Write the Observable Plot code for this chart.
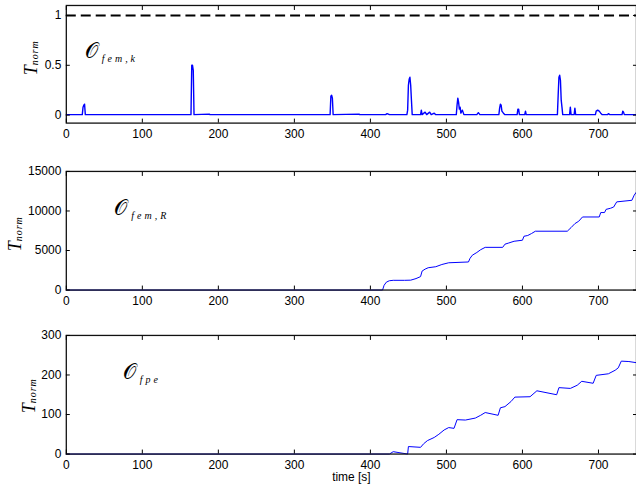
<!DOCTYPE html>
<html><head><meta charset="utf-8">
<script src="https://cdn.jsdelivr.net/npm/d3@7"></script>
<script src="https://cdn.jsdelivr.net/npm/@observablehq/plot@0.6"></script>
<style>
html,body{margin:0;padding:0;background:#fff;overflow:hidden;width:636px;height:494px}
#chart>div{line-height:0}
</style></head><body><div id="chart"></div>
<script>
// ---- data ----
const xTicks = [0, 100, 200, 300, 400, 500, 600, 700];
const xLabel = "time [s]";
const yLabelMain = "T";
const yLabelSub = "norm";

// panel 1: O_fem,k
const time1 = [0,21,22,23,24,25,164,165,166,167,168,188,189,347,348,349,350,351,385,386,420,422,425,448,449,450,451,452,453,454,455,466,467,468,472,474,478,480,484,486,513,514,515,516,517,518,519,521,523,540,542,544,569,570,571,572,573,575,577,593,594,595,596,603,604,605,646,647,648,649,650,651,652,653,662,663,664,668,669,670,696,697,699,701,703,705,712,713,715,731,732,733,734,750];
const tnorm1 = [0.005,0.005,0.08,0.1,0.11,0.005,0.005,0.5,0.5,0.45,0.005,0.01,0.005,0.005,0.19,0.2,0.17,0.005,0.01,0.005,0.005,0.015,0.005,0.005,0.05,0.3,0.36,0.38,0.3,0.15,0.005,0.005,0.05,0.005,0.03,0.005,0.03,0.005,0.02,0.005,0.005,0.1,0.17,0.13,0.06,0.08,0.02,0.05,0.005,0.005,0.025,0.005,0.005,0.07,0.11,0.1,0.04,0.02,0.005,0.005,0.06,0.06,0.005,0.005,0.04,0.005,0.005,0.2,0.38,0.4,0.35,0.15,0.08,0.005,0.005,0.08,0.005,0.005,0.07,0.005,0.005,0.04,0.05,0.04,0.02,0.005,0.005,0.015,0.005,0.005,0.04,0.03,0.005,0.005];
const yTicks1 = [0, 0.5, 1];
const threshold1 = [1];

// panel 2: O_fem,R
const time2 = [0,416,418,421,425,430,445,453,460,466,468,472,476,486,494,503,529,531,534,540,545,551,574,577,582,589,600,602,607,612,617,659,664,669,674,679,701,703,708,710,716,720,724,744,747,750];
const tnorm2 = [0,0,600,1000,1180,1230,1230,1250,1450,1700,2400,2650,2820,2950,3230,3450,3550,4000,4400,4750,5100,5400,5400,5800,5950,6170,6300,6800,6900,7150,7440,7440,7900,8400,8700,9240,9240,9800,9800,10200,10350,10500,11150,11350,12000,12400];
const yTicks2 = [0, 5000, 10000, 15000];

// panel 3: O_fpe
const time3 = [0,425,430,449,450,466,470,475,484,490,497,503,510,514,525,538,545,551,568,571,577,585,590,610,619,645,648,663,672,678,693,697,713,722,726,730,740,750];
const tnorm3 = [0,0,6,0,19,17,26,34,42,50,61,67,65,87,86,91,98,105,98,117,120,133,144,145,160,150,168,166,174,184,179,199,203,212,218,235,234,231];
const yTicks3 = [0, 100, 200, 300];

// annotations (name, subscript, position in data units)
const annotMain = ["\u{1D4AA}", "\u{1D4AA}", "\u{1D4AA}"];
const annotSub = ["fem,k", "fem,R", "fpe"];
const annotT = [60, 100, 100];
const annotV = [0.57, 9450, 189];

// ---- drawing ----
const W = 638;
const font = "'Liberation Sans', Arial, Helvetica, sans-serif";
const serif = "'Liberation Serif', 'Times New Roman', serif";

function panel({time, vals, yDomain, yTicks, height, marginTop, marginBottom, extra = [], labelX, labelY, idx, lineWidth = 1}) {
  const rows = time.map((t, i) => ({t, v: vals[i]}));
  const p = Plot.plot({
    width: W, height, marginLeft: 66, marginRight: 0, marginTop, marginBottom,
    style: {fontFamily: font, fontSize: "12px", color: "#000", background: "#fff", overflow: "visible"},
    x: {domain: [0, 750]},
    y: {domain: yDomain},
    marks: [
      ...extra,
      Plot.line(rows, {x: "t", y: "v", stroke: "#0000ff", strokeWidth: lineWidth}),
      Plot.frame({stroke: "#111", strokeWidth: 1.3}),
      Plot.axisX({ticks: xTicks, tickSize: -4, tickPadding: 10, label: null, tickFormat: d => String(d), stroke: "#000"}),
      Plot.axisX({anchor: "top", ticks: xTicks, tickSize: -4, tickFormat: () => "", label: null, stroke: "#000"}),
      Plot.axisY({ticks: yTicks, tickSize: -4, tickPadding: 9, label: null, tickFormat: d => String(d), stroke: "#000"}),
      Plot.axisY({anchor: "right", ticks: yTicks, tickSize: -4, tickFormat: () => "", label: null, stroke: "#000"})
    ]
  });
  const svg = d3.select(p);
  // y label T_norm (rotated)
  const yl = svg.append("text")
    .attr("transform", `translate(${labelX},${labelY}) rotate(-90)`)
    .attr("text-anchor", "middle")
    .attr("font-family", serif).attr("font-style", "italic").attr("font-weight", "normal").attr("fill", "#000");
  yl.append("tspan").attr("font-size", 18).text(yLabelMain);
  yl.append("tspan").attr("font-size", 10).attr("dy", 1).attr("letter-spacing", 1).text(yLabelSub);
  // annotation
  const sx = p.scale("x"), sy = p.scale("y");
  const an = svg.append("text")
    .attr("x", sx.apply(annotT[idx])).attr("y", sy.apply(annotV[idx]))
    .attr("font-family", serif).attr("fill", "#000");
  an.append("tspan").attr("font-size", 21).text(annotMain[idx]);
  an.append("tspan").attr("font-size", 10).attr("font-style", "italic").attr("dx", 4).attr("dy", 4).attr("letter-spacing", 3).text(annotSub[idx]);
  return p;
}

const chart = document.getElementById("chart");
chart.append(panel({
  time: time1, vals: tnorm1, yDomain: [-0.08, 1.1], yTicks: yTicks1, height: 150, marginTop: 5, marginBottom: 27,
  extra: [Plot.ruleY(threshold1, {stroke: "#000", strokeWidth: 2, strokeDasharray: "10,5"})],
  labelX: 37, labelY: 58, idx: 0, lineWidth: 1.4
}));
chart.append(panel({
  time: time2, vals: tnorm2, yDomain: [0, 15000], yTicks: yTicks2, height: 166, marginTop: 21, marginBottom: 26,
  labelX: 21, labelY: 84, idx: 1
}));
chart.append(panel({
  time: time3, vals: tnorm3, yDomain: [0, 300], yTicks: yTicks3, height: 178, marginTop: 20, marginBottom: 39,
  extra: [Plot.text([xLabel], {frameAnchor: "bottom", dy: 27, fontSize: 12})],
  labelX: 35, labelY: 81, idx: 2
}));
</script></body></html>
